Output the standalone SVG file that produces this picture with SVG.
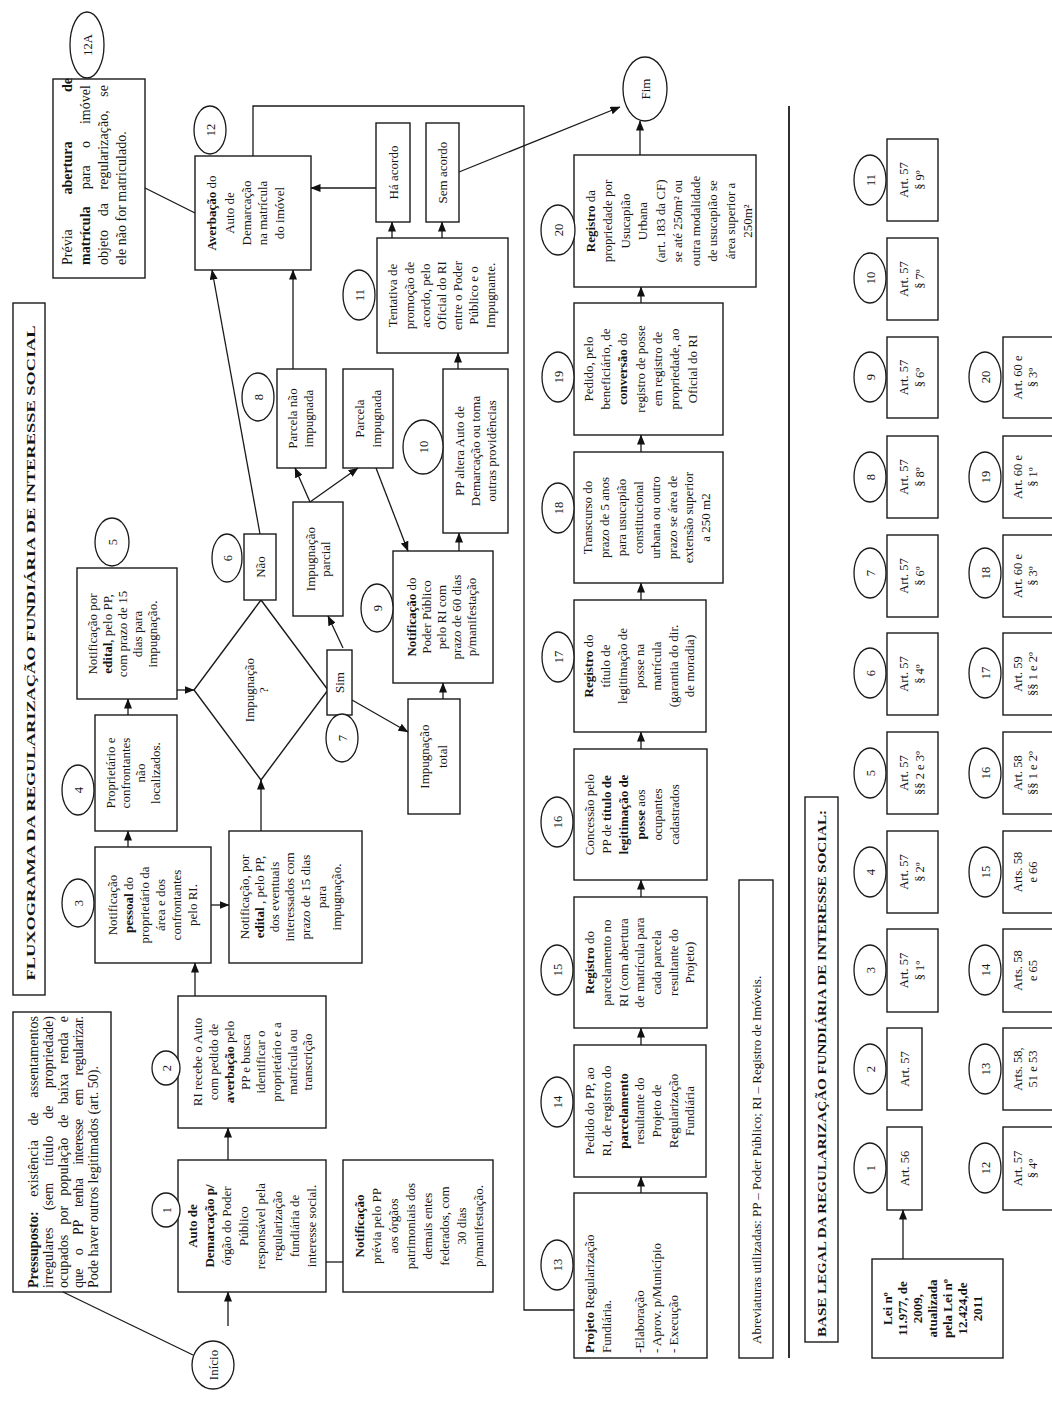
<svg xmlns="http://www.w3.org/2000/svg" width="1052" height="1410" viewBox="0 0 1052 1410">
<style>
.b{fill:#fff;stroke:#1a1a1a;stroke-width:1.4}
.e{fill:#fff;stroke:#1a1a1a;stroke-width:1.3}
.t{font-family:"Liberation Serif","Times New Roman",serif;font-size:13px;fill:#151515;text-anchor:middle}
.s{text-anchor:start}
.n{font-size:12.5px}
.m{font-size:14px}
.bd{font-weight:bold}
.c{fill:none;stroke:#1a1a1a;stroke-width:1.3}
.a{marker-end:url(#ah)}
</style>
<defs>
<marker id="ah" markerWidth="10" markerHeight="8" refX="9.5" refY="4" orient="auto" markerUnits="userSpaceOnUse"><path d="M0,0 L10,4 L0,8 z" fill="#111"/></marker>
</defs>
<rect x="0" y="0" width="1052" height="1410" fill="#fff"/>
<g transform="translate(0,1410) rotate(-90)">

<g id="title"><rect class="b" x="415" y="13" width="692" height="32"/><text class="t bd" x="757" y="35" font-size="17" textLength="655" lengthAdjust="spacingAndGlyphs">FLUXOGRAMA DA REGULARIZAÇÃO FUNDIÁRIA DE INTERESSE SOCIAL</text></g>

<g id="pressuposto"><rect class="b" x="118" y="13" width="280" height="98"/>
<text class="t s m" x="122" y="38" word-spacing="11" textLength="272" lengthAdjust="spacing"><tspan class="bd">Pressuposto:</tspan> existência de assentamentos</text>
<text class="t s m" x="122" y="53" word-spacing="13.5" textLength="272" lengthAdjust="spacing">irregulares (sem título de propriedade)</text>
<text class="t s m" x="122" y="68" word-spacing="6.5" textLength="272" lengthAdjust="spacing">ocupados por população de baixa renda e</text>
<text class="t s m" x="122" y="83" word-spacing="10.5" textLength="272" lengthAdjust="spacing">que o PP tenha interesse em regularizar.</text>
<text class="t s m" x="122" y="98">Pode haver outros legitimados (art. 50).</text></g>

<g id="inicio"><ellipse class="e" cx="45" cy="213" rx="24" ry="21"/><text class="t" x="45" y="217.5">Início</text></g>

<g id="n1"><rect class="b" x="118" y="178" width="132" height="148"/><ellipse class="e" cx="200" cy="166" rx="17" ry="14"/><text class="t n" x="200" y="170.5">1</text>
<text class="t bd" x="184" y="197">Auto de</text>
<text class="t bd" x="184" y="214">Demarcação p/</text>
<text class="t" x="184" y="231">órgão do Poder</text>
<text class="t" x="184" y="248">Público</text>
<text class="t" x="184" y="265">responsável pela</text>
<text class="t" x="184" y="282">regularização</text>
<text class="t" x="184" y="299">fundiária de</text>
<text class="t" x="184" y="316">interesse social.</text></g>

<g id="n2"><rect class="b" x="282" y="178" width="132" height="148"/><ellipse class="e" cx="342" cy="166" rx="17" ry="14"/><text class="t n" x="342" y="170.5">2</text>
<text class="t" x="348" y="202">RI recebe o Auto</text>
<text class="t" x="348" y="218">com pedido de</text>
<text class="t" x="348" y="234"><tspan class="bd">averbação</tspan> pelo</text>
<text class="t" x="348" y="250">PP e busca</text>
<text class="t" x="348" y="265">identificar o</text>
<text class="t" x="348" y="281">proprietário e a</text>
<text class="t" x="348" y="297">matrícula ou</text>
<text class="t" x="348" y="312">transcrição</text></g>

<g id="notif_previa"><rect class="b" x="118" y="343" width="132" height="150"/>
<text class="t bd" x="184" y="364">Notificação</text>
<text class="t" x="184" y="381">prévia pelo PP</text>
<text class="t" x="184" y="398">aos órgãos</text>
<text class="t" x="184" y="415">patrimoniais dos</text>
<text class="t" x="184" y="432">demais entes</text>
<text class="t" x="184" y="449">federados, com</text>
<text class="t" x="184" y="466">30 dias</text>
<text class="t" x="184" y="483">p/manifestação.</text></g>

<g id="n3"><rect class="b" x="447" y="95" width="116" height="116"/><ellipse class="e" cx="507" cy="78" rx="24" ry="16"/><text class="t n" x="507" y="82.5">3</text>
<text class="t" x="505" y="117">Notificação</text>
<text class="t" x="505" y="133"><tspan class="bd">pessoal</tspan> do</text>
<text class="t" x="505" y="149">proprietário da</text>
<text class="t" x="505" y="165">área e dos</text>
<text class="t" x="505" y="181">confrontantes</text>
<text class="t" x="505" y="197">pelo RI.</text></g>

<g id="n4"><rect class="b" x="579" y="95" width="116" height="82"/><ellipse class="e" cx="620" cy="78" rx="25" ry="16"/><text class="t n" x="620" y="82.5">4</text>
<text class="t" x="637" y="115">Proprietário e</text>
<text class="t" x="637" y="130">confrontantes</text>
<text class="t" x="637" y="145">não</text>
<text class="t" x="637" y="160">localizados.</text></g>

<g id="n5"><rect class="b" x="711" y="77" width="131" height="100"/><ellipse class="e" cx="868" cy="112" rx="24" ry="17"/><text class="t n" x="868" y="116.5">5</text>
<text class="t" x="776" y="97">Notificação por</text>
<text class="t" x="776" y="112"><tspan class="bd">edital</tspan>, pelo PP,</text>
<text class="t" x="776" y="127">com prazo de 15</text>
<text class="t" x="776" y="142">dias para</text>
<text class="t" x="776" y="157">impugnação.</text></g>

<g id="edital"><rect class="b" x="447" y="229" width="132" height="133"/>
<text class="t" x="513" y="249">Notificação, por</text>
<text class="t" x="513" y="264"><tspan class="bd">edital</tspan> , pelo PP,</text>
<text class="t" x="513" y="279">dos eventuais</text>
<text class="t" x="513" y="294">interessados com</text>
<text class="t" x="513" y="310">prazo de 15 dias</text>
<text class="t" x="513" y="326">para</text>
<text class="t" x="513" y="341">impugnação.</text></g>

<g id="decisao"><polygon class="b" points="630,261 720,194 810,261 720,328"/>
<text class="t" x="720" y="254">Impugnação</text>
<text class="t" x="720" y="268">?</text></g>

<g id="nao"><rect class="b" x="810" y="244" width="66" height="32"/><ellipse class="e" cx="852" cy="227" rx="24" ry="15"/><text class="t n" x="852" y="231.5">6</text>
<text class="t" x="843" y="264.5">Não</text></g>

<g id="sim"><rect class="b" x="695" y="327" width="65" height="25"/><ellipse class="e" cx="672" cy="342" rx="24" ry="16"/><text class="t n" x="672" y="346.5">7</text>
<text class="t" x="727.5" y="344">Sim</text></g>

<g id="imp_parcial"><rect class="b" x="794" y="293" width="114" height="50"/>
<text class="t" x="851" y="314.5">Impugnação</text>
<text class="t" x="851" y="329.5">parcial</text></g>

<g id="parcela_nao"><rect class="b" x="942" y="277" width="99" height="49"/><ellipse class="e" cx="1013" cy="258" rx="24" ry="16"/><text class="t n" x="1013" y="262.5">8</text>
<text class="t" x="991.5" y="297">Parcela não</text>
<text class="t" x="991.5" y="313">impugnada</text></g>

<g id="parcela_imp"><rect class="b" x="942" y="343" width="99" height="50"/>
<text class="t" x="991.5" y="364">Parcela</text>
<text class="t" x="991.5" y="381">impugnada</text></g>

<g id="imp_total"><rect class="b" x="596" y="408" width="115" height="52"/>
<text class="t" x="653.5" y="429">Impugnação</text>
<text class="t" x="653.5" y="447">total</text></g>

<g id="n9"><rect class="b" x="727" y="393" width="132" height="100"/><ellipse class="e" cx="802" cy="377" rx="24" ry="16"/><text class="t n" x="802" y="381.5">9</text>
<text class="t" x="793" y="416"><tspan class="bd">Notificação</tspan> do</text>
<text class="t" x="793" y="431">Poder Público</text>
<text class="t" x="793" y="446">pelo RI com</text>
<text class="t" x="793" y="461">prazo de 60 dias</text>
<text class="t" x="793" y="476">p/manifestação</text></g>

<g id="n10"><rect class="b" x="877" y="443" width="164" height="65"/><ellipse class="e" cx="963" cy="423" rx="27" ry="20"/><text class="t n" x="963" y="427.5">10</text>
<text class="t" x="959" y="464">PP altera Auto de</text>
<text class="t" x="959" y="480">Demarcação ou toma</text>
<text class="t" x="959" y="496">outras providências</text></g>

<g id="n11"><rect class="b" x="1057" y="377" width="115" height="131"/><ellipse class="e" cx="1115" cy="359" rx="25" ry="16"/><text class="t n" x="1115" y="363.5">11</text>
<text class="t" x="1114.5" y="397">Tentativa de</text>
<text class="t" x="1114.5" y="414">promoção de</text>
<text class="t" x="1114.5" y="430">acordo, pelo</text>
<text class="t" x="1114.5" y="446">Oficial do RI</text>
<text class="t" x="1114.5" y="462">entre o Poder</text>
<text class="t" x="1114.5" y="478">Público e o</text>
<text class="t" x="1114.5" y="495">Impugnante.</text></g>

<g id="ha_acordo"><rect class="b" x="1188" y="376" width="99" height="34"/><text class="t" x="1237.5" y="397.5">Há acordo</text></g>
<g id="sem_acordo"><rect class="b" x="1188" y="426" width="99" height="33"/><text class="t" x="1237.5" y="447">Sem acordo</text></g>

<g id="n12"><rect class="b" x="1140" y="195" width="114" height="116"/><ellipse class="e" cx="1280" cy="210" rx="24" ry="16"/><text class="t n" x="1280" y="214.5">12</text>
<text class="t" x="1197" y="216"><tspan class="bd">Averbação</tspan> do</text>
<text class="t" x="1197" y="234">Auto de</text>
<text class="t" x="1197" y="251">Demarcação</text>
<text class="t" x="1197" y="267">na matrícula</text>
<text class="t" x="1197" y="284">do imóvel</text></g>

<g id="n12a"><rect class="b" x="1132" y="53" width="199" height="92"/><ellipse class="e" cx="1365" cy="87" rx="33" ry="17"/><text class="t n" x="1365" y="91.5">12A</text>
<text class="t s m" x="1145" y="72">Prévia</text>
<text class="t m bd" x="1242" y="72">abertura</text>
<text class="t m bd" x="1325" y="72" text-anchor="end">de</text>
<text class="t s m" x="1145" y="90" word-spacing="13.5" textLength="180" lengthAdjust="spacing"><tspan class="bd">matrícula</tspan> para o imóvel</text>
<text class="t s m" x="1145" y="108" word-spacing="10" textLength="180" lengthAdjust="spacing">objeto da regularização, se</text>
<text class="t s m" x="1145" y="126">ele não for matriculado.</text></g>

<g id="fim"><ellipse class="e" cx="1321" cy="645" rx="32" ry="22"/><text class="t" x="1321" y="649.5">Fim</text></g>

<g id="n13"><rect class="b" x="52" y="574" width="165" height="133"/><ellipse class="e" cx="145" cy="557" rx="25" ry="16"/><text class="t n" x="145" y="561.5">13</text>
<text class="t s" x="57" y="594"><tspan class="bd">Projeto</tspan> Regularização</text>
<text class="t s" x="57" y="611">Fundiária.</text>
<text class="t s" x="57" y="644">-Elaboração</text>
<text class="t s" x="57" y="661">- Aprov. p/Município</text>
<text class="t s" x="57" y="678">- Execução</text></g>

<g id="n14"><rect class="b" x="233" y="574" width="132" height="132"/><ellipse class="e" cx="308" cy="557" rx="25" ry="16"/><text class="t n" x="308" y="561.5">14</text>
<text class="t" x="299" y="594">Pedido do PP, ao</text>
<text class="t" x="299" y="611">RI, de registro do</text>
<text class="t bd" x="299" y="628">parcelamento</text>
<text class="t" x="299" y="644">resultante do</text>
<text class="t" x="299" y="661">Projeto de</text>
<text class="t" x="299" y="678">Regularização</text>
<text class="t" x="299" y="694">Fundiária</text></g>

<g id="n15"><rect class="b" x="382" y="574" width="131" height="133"/><ellipse class="e" cx="440" cy="557" rx="25" ry="16"/><text class="t n" x="440" y="561.5">15</text>
<text class="t" x="447.5" y="594"><tspan class="bd">Registro</tspan> do</text>
<text class="t" x="447.5" y="611">parcelamento no</text>
<text class="t" x="447.5" y="628">RI (com abertura</text>
<text class="t" x="447.5" y="644">de matrícula para</text>
<text class="t" x="447.5" y="661">cada parcela</text>
<text class="t" x="447.5" y="678">resultante do</text>
<text class="t" x="447.5" y="694">Projeto)</text></g>

<g id="n16"><rect class="b" x="530" y="574" width="131" height="133"/><ellipse class="e" cx="588" cy="557" rx="25" ry="16"/><text class="t n" x="588" y="561.5">16</text>
<text class="t" x="595.5" y="594">Concessão pelo</text>
<text class="t" x="595.5" y="611">PP de <tspan class="bd">título de</tspan></text>
<text class="t bd" x="595.5" y="628">legitimação de</text>
<text class="t" x="595.5" y="645"><tspan class="bd">posse</tspan> aos</text>
<text class="t" x="595.5" y="662">ocupantes</text>
<text class="t" x="595.5" y="679">cadastrados</text></g>

<g id="n17"><rect class="b" x="678" y="574" width="132" height="132"/><ellipse class="e" cx="753" cy="558" rx="25" ry="16"/><text class="t n" x="753" y="562.5">17</text>
<text class="t" x="744" y="593"><tspan class="bd">Registro</tspan> do</text>
<text class="t" x="744" y="610">título de</text>
<text class="t" x="744" y="627">legitimação de</text>
<text class="t" x="744" y="644">posse na</text>
<text class="t" x="744" y="661">matrícula</text>
<text class="t" x="744" y="678">(garantia do dir.</text>
<text class="t" x="744" y="694">de moradia)</text></g>

<g id="n18"><rect class="b" x="827" y="574" width="131" height="149"/><ellipse class="e" cx="902" cy="558" rx="25" ry="16"/><text class="t n" x="902" y="562.5">18</text>
<text class="t" x="892.5" y="592">Transcurso do</text>
<text class="t" x="892.5" y="609">prazo de 5 anos</text>
<text class="t" x="892.5" y="626">para usucapião</text>
<text class="t" x="892.5" y="643">constitucional</text>
<text class="t" x="892.5" y="660">urbana ou outro</text>
<text class="t" x="892.5" y="677">prazo se área  de</text>
<text class="t" x="892.5" y="693">extensão superior</text>
<text class="t" x="892.5" y="710">a 250 m2</text></g>

<g id="n19"><rect class="b" x="975" y="574" width="132" height="149"/><ellipse class="e" cx="1033" cy="558" rx="25" ry="16"/><text class="t n" x="1033" y="562.5">19</text>
<text class="t" x="1041" y="593">Pedido, pelo</text>
<text class="t" x="1041" y="610">beneficiário, de</text>
<text class="t" x="1041" y="627"><tspan class="bd">conversão</tspan> do</text>
<text class="t" x="1041" y="645">registro de posse</text>
<text class="t" x="1041" y="662">em registro de</text>
<text class="t" x="1041" y="679">propriedade, ao</text>
<text class="t" x="1041" y="697">Oficial do RI</text></g>

<g id="n20"><rect class="b" x="1123" y="574" width="132" height="182"/><ellipse class="e" cx="1180" cy="558" rx="25" ry="17"/><text class="t n" x="1180" y="562.5">20</text>
<text class="t" x="1189" y="594.5"><tspan class="bd">Registro</tspan> da</text>
<text class="t" x="1189" y="612">propriedade por</text>
<text class="t" x="1189" y="629.5">Usucapião</text>
<text class="t" x="1189" y="647">Urbana</text>
<text class="t" x="1189" y="664.5">(art. 183 da CF)</text>
<text class="t" x="1189" y="682">se até 250m² ou</text>
<text class="t" x="1189" y="699.5">outra modalidade</text>
<text class="t" x="1189" y="717">de usucapião se</text>
<text class="t" x="1189" y="734.5">área superior a</text>
<text class="t" x="1189" y="752">250m²</text></g>

<g id="abreviaturas"><rect class="b" x="52" y="739" width="478" height="34"/><text class="t s" x="66" y="760.5">Abreviaturas utilizadas: PP – Poder Público; RI – Registro de Imóveis.</text></g>

<g id="separador"><line x1="52" y1="789" x2="1304" y2="789" stroke="#1a1a1a" stroke-width="1.8"/></g>

<g id="base_legal"><rect class="b" x="68" y="805" width="545" height="33"/><text class="t s bd" x="73" y="826" textLength="527" lengthAdjust="spacingAndGlyphs">BASE LEGAL DA REGULARIZAÇÃO FUNDIÁRIA DE INTERESSE SOCIAL:</text></g>

<g id="lei"><rect class="b" x="52" y="872" width="99" height="131"/>
<text class="t bd" x="101.5" y="892">Lei nº</text>
<text class="t bd" x="101.5" y="907">11.977, de</text>
<text class="t bd" x="101.5" y="922">2009,</text>
<text class="t bd" x="101.5" y="937">atualizada</text>
<text class="t bd" x="101.5" y="952">pela Lei nº</text>
<text class="t bd" x="101.5" y="967">12.424,de</text>
<text class="t bd" x="101.5" y="982">2011</text></g>

<g id="art1"><rect class="b" x="200" y="887" width="83" height="35"/><ellipse class="e" cx="242" cy="870" rx="25" ry="16"/><text class="t n" x="242" y="874.5">1</text><text class="t n" x="241.5" y="909">Art. 56</text></g>
<g id="art2"><rect class="b" x="300" y="887" width="82" height="35"/><ellipse class="e" cx="341" cy="870" rx="25" ry="16"/><text class="t n" x="341" y="874.5">2</text><text class="t n" x="341" y="909">Art. 57</text></g>
<g id="art3"><rect class="b" x="398" y="887" width="83" height="51"/><ellipse class="e" cx="440" cy="870" rx="25" ry="16"/><text class="t n" x="440" y="874.5">3</text><text class="t n" x="439.5" y="908">Art. 57</text><text class="t n" x="439.5" y="924">§ 1º</text></g>
<g id="art4"><rect class="b" x="497" y="887" width="82" height="51"/><ellipse class="e" cx="538" cy="870" rx="25" ry="16"/><text class="t n" x="538" y="874.5">4</text><text class="t n" x="538" y="908">Art. 57</text><text class="t n" x="538" y="924">§ 2º</text></g>
<g id="art5"><rect class="b" x="596" y="887" width="82" height="51"/><ellipse class="e" cx="637" cy="870" rx="25" ry="16"/><text class="t n" x="637" y="874.5">5</text><text class="t n" x="637" y="908">Art. 57</text><text class="t n" x="637" y="924">§§ 2 e 3º</text></g>
<g id="art6"><rect class="b" x="695" y="887" width="82" height="51"/><ellipse class="e" cx="737" cy="870" rx="25" ry="16"/><text class="t n" x="737" y="874.5">6</text><text class="t n" x="736" y="908">Art. 57</text><text class="t n" x="736" y="924">§ 4º</text></g>
<g id="art7"><rect class="b" x="793" y="887" width="82" height="51"/><ellipse class="e" cx="837" cy="870" rx="25" ry="16"/><text class="t n" x="837" y="874.5">7</text><text class="t n" x="834" y="908">Art. 57</text><text class="t n" x="834" y="924">§ 6º</text></g>
<g id="art8"><rect class="b" x="892" y="887" width="82" height="51"/><ellipse class="e" cx="933" cy="870" rx="25" ry="16"/><text class="t n" x="933" y="874.5">8</text><text class="t n" x="933" y="908">Art. 57</text><text class="t n" x="933" y="924">§ 8º</text></g>
<g id="art9"><rect class="b" x="992" y="887" width="81" height="51"/><ellipse class="e" cx="1033" cy="870" rx="25" ry="16"/><text class="t n" x="1033" y="874.5">9</text><text class="t n" x="1032.5" y="908">Art. 57</text><text class="t n" x="1032.5" y="924">§ 6º</text></g>
<g id="art10"><rect class="b" x="1090" y="887" width="82" height="51"/><ellipse class="e" cx="1132" cy="870" rx="25" ry="16"/><text class="t n" x="1132" y="874.5">10</text><text class="t n" x="1131" y="908">Art. 57</text><text class="t n" x="1131" y="924">§ 7º</text></g>
<g id="art11"><rect class="b" x="1189" y="887" width="82" height="51"/><ellipse class="e" cx="1230" cy="870" rx="25" ry="16"/><text class="t n" x="1230" y="874.5">11</text><text class="t n" x="1230" y="908">Art. 57</text><text class="t n" x="1230" y="924">§ 9º</text></g>

<g id="art12"><rect class="b" x="200" y="1003" width="83" height="52"/><ellipse class="e" cx="242" cy="985" rx="25" ry="16"/><text class="t n" x="242" y="989.5">12</text><text class="t n" x="241.5" y="1022">Art. 57</text><text class="t n" x="241.5" y="1037">§ 4º</text></g>
<g id="art13"><rect class="b" x="300" y="1003" width="82" height="52"/><ellipse class="e" cx="341" cy="985" rx="25" ry="16"/><text class="t n" x="341" y="989.5">13</text><text class="t n" x="341" y="1022">Arts. 58,</text><text class="t n" x="341" y="1037">51 e 53</text></g>
<g id="art14"><rect class="b" x="398" y="1003" width="83" height="52"/><ellipse class="e" cx="440" cy="985" rx="25" ry="16"/><text class="t n" x="440" y="989.5">14</text><text class="t n" x="439.5" y="1022">Arts. 58</text><text class="t n" x="439.5" y="1037">e 65</text></g>
<g id="art15"><rect class="b" x="497" y="1003" width="82" height="52"/><ellipse class="e" cx="538" cy="985" rx="25" ry="16"/><text class="t n" x="538" y="989.5">15</text><text class="t n" x="538" y="1022">Arts. 58</text><text class="t n" x="538" y="1037">e 66</text></g>
<g id="art16"><rect class="b" x="596" y="1003" width="82" height="52"/><ellipse class="e" cx="637" cy="985" rx="25" ry="16"/><text class="t n" x="637" y="989.5">16</text><text class="t n" x="637" y="1022">Art. 58</text><text class="t n" x="637" y="1037">§§ 1 e 2º</text></g>
<g id="art17"><rect class="b" x="695" y="1003" width="82" height="52"/><ellipse class="e" cx="737" cy="985" rx="25" ry="16"/><text class="t n" x="737" y="989.5">17</text><text class="t n" x="736" y="1022">Art. 59</text><text class="t n" x="736" y="1037">§§ 1 e 2º</text></g>
<g id="art18"><rect class="b" x="793" y="1003" width="82" height="52"/><ellipse class="e" cx="837" cy="985" rx="25" ry="16"/><text class="t n" x="837" y="989.5">18</text><text class="t n" x="834" y="1022">Art. 60 e</text><text class="t n" x="834" y="1037">§ 3º</text></g>
<g id="art19"><rect class="b" x="892" y="1003" width="82" height="52"/><ellipse class="e" cx="933" cy="985" rx="25" ry="16"/><text class="t n" x="933" y="989.5">19</text><text class="t n" x="933" y="1022">Art. 60 e</text><text class="t n" x="933" y="1037">§ 1º</text></g>
<g id="art20"><rect class="b" x="992" y="1003" width="81" height="52"/><ellipse class="e" cx="1033" cy="985" rx="25" ry="16"/><text class="t n" x="1033" y="989.5">20</text><text class="t n" x="1032.5" y="1022">Art. 60 e</text><text class="t n" x="1032.5" y="1037">§ 3º</text></g>

<g id="connectors">
<path class="c" d="M118,63 L55,193"/>
<path class="c a" d="M84,228 L118,228"/>
<path class="c a" d="M250,228 L282,228"/>
<path class="c" d="M148,326 L148,343"/>
<path class="c a" d="M414,195 L447,195"/>
<path class="c a" d="M563,128 L579,128"/>
<path class="c a" d="M695,128 L711,128"/>
<path class="c a" d="M505,211 L505,229"/>
<path class="c a" d="M579,261 L630,261"/>
<path class="c a" d="M720,177 L720,194"/>
<path class="c a" d="M876,260 L1140,212"/>
<path class="c a" d="M762,343 L794,328"/>
<path class="c a" d="M710,352 L678,408"/>
<path class="c a" d="M908,310 L942,295"/>
<path class="c a" d="M908,310 L942,358"/>
<path class="c a" d="M942,376 L859,408"/>
<path class="c a" d="M711,443 L727,443"/>
<path class="c a" d="M859,459 L877,459"/>
<path class="c a" d="M1041,458 L1057,458"/>
<path class="c a" d="M1172,392 L1188,392"/>
<path class="c a" d="M1172,442 L1188,442"/>
<path class="c a" d="M1222,376 L1222,311"/>
<path class="c a" d="M1041,293 L1140,293"/>
<path class="c a" d="M1238,459 L1303,620"/>
<path class="c a" d="M1255,640 L1289,640"/>
<path class="c a" d="M1107,641 L1123,641"/>
<path class="c a" d="M958,641 L975,641"/>
<path class="c a" d="M810,641 L827,641"/>
<path class="c a" d="M661,641 L678,641"/>
<path class="c a" d="M513,641 L530,641"/>
<path class="c a" d="M365,641 L382,641"/>
<path class="c a" d="M217,641 L233,641"/>
<path class="c" d="M1222,145 L1197,195"/>
<path class="c" d="M1254,253 H1304 V524 H100 V574"/>
<path class="c a" d="M151,903 L200,903"/>
</g>
</g>
</svg>
